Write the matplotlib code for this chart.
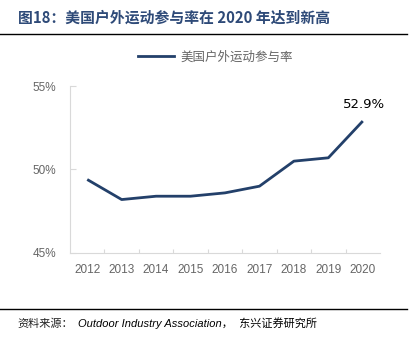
import matplotlib.pyplot as plt
from matplotlib.lines import Line2D

years = ["2012", "2013", "2014", "2015", "2016", "2017", "2018", "2019", "2020"]
rate = [49.4, 48.2, 48.4, 48.4, 48.6, 49.0, 50.5, 50.7, 52.9]
yticks = [45, 50, 55]

plt.rcParams['font.family'] = ['Liberation Sans', 'Noto Sans CJK SC', 'DejaVu Sans']

line_color = "#23406A"
gray = "#666666"

fig = plt.figure(figsize=(4.15, 3.37), dpi=100)
ax = fig.add_axes([0.1687, 0.2493, 0.747, 0.4955])

x = list(range(len(years)))
ax.plot(x, rate, color=line_color, lw=2.0, solid_capstyle='butt')
ax.annotate("%.1f%%" % rate[-1], (x[-1], rate[-1]), xytext=(1, 7), textcoords='offset points',
            ha='center', va='bottom', fontsize=9.5, color='black',
            family=['DejaVu Sans'])

ax.set_xlim(-0.5, len(years) - 0.5)
ax.set_ylim(45, 55)
ax.set_yticks(yticks)
ax.set_yticklabels(["%d%%" % v for v in yticks])
ax.set_xticks([i + 0.5 for i in range(len(years) - 1)], minor=False)
ax.set_xticklabels([])
ax.set_xticks(x, minor=True)
ax.set_xticklabels(years, minor=True)
ax.tick_params(axis='x', which='major', direction='in', length=3, color='#D9D9D9')
ax.tick_params(axis='x', which='minor', length=0, pad=8, labelsize=8.5, labelcolor=gray)
ax.tick_params(axis='y', direction='in', length=4, color='#D9D9D9', pad=10, labelsize=8.5, labelcolor=gray)
for s in ['top', 'right']:
    ax.spines[s].set_visible(False)
for s in ['left', 'bottom']:
    ax.spines[s].set_color('#D9D9D9')

handle = Line2D([], [], color=line_color, lw=2)
fig.legend([handle], ["美国户外运动参与率"], loc='center', bbox_to_anchor=(0.519, 0.831),
           frameon=False, labelcolor=gray, handlelength=2.9, handletextpad=0.5,
           prop={'family': ['Noto Sans CJK SC'], 'size': 9})

fig.text(0.043, 0.948, "图18：美国户外运动参与率在 2020 年达到新高", fontsize=10.7, fontweight='bold',
         color="#2E4A78", va='center', ha='left', family=['Noto Sans CJK SC'])
fig.add_artist(Line2D([0.0, 0.98], [0.899, 0.899], color='black', lw=1.0))
fig.add_artist(Line2D([0.0, 0.98], [0.083, 0.083], color='black', lw=1.0))
fig.text(0.043, 0.040, "资料来源：", fontsize=8, style='italic', color='#222222',
         va='center', ha='left', family=['Noto Sans CJK SC'])
fig.text(0.187, 0.040, "Outdoor Industry Association，  东兴证券研究所", fontsize=8, style='italic',
         color='black', va='center', ha='left', family=['Liberation Sans', 'Noto Sans CJK SC'])

fig.savefig("out.png", dpi=100)
